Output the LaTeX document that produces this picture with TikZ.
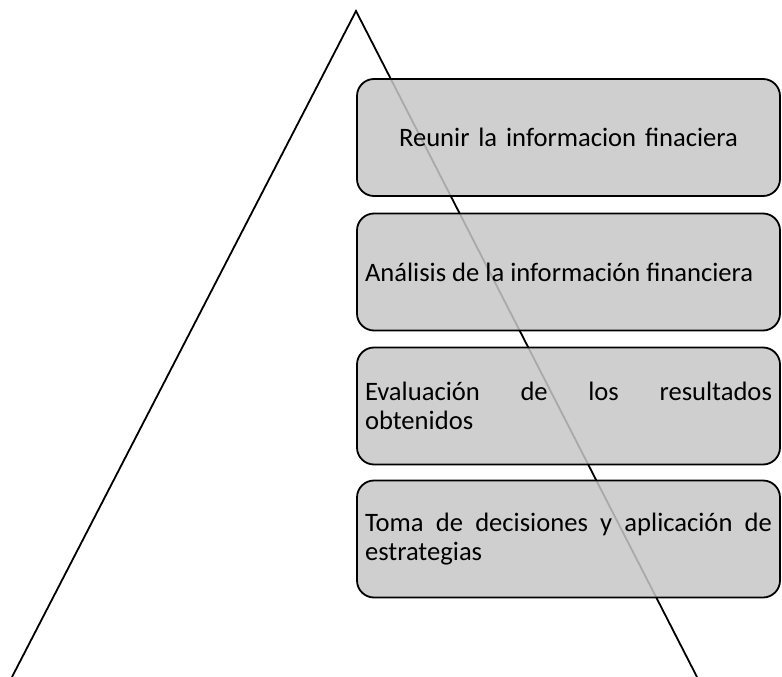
\documentclass[tikz,border=0pt]{standalone}
\usepackage{fontspec}
\setmainfont{Carlito}
\usepackage{tikz}

\newcommand{\stagefont}{\fontsize{26.6}{29.5}\selectfont\hyphenpenalty=10000\exhyphenpenalty=10000}

\begin{document}
\begin{tikzpicture}[x=1pt, y=-1pt,
  stage/.style = {draw, line width=1.8pt, rounded corners=17pt,
    fill=black!22, fill opacity=0.85, text opacity=1,
    minimum width=423pt, minimum height=117pt,
    text width=407pt, inner xsep=8pt, font=\stagefont}]

\useasboundingbox (0,0) rectangle (782,677);

%% pyramid
\coordinate (apex) at (356, 11);
\coordinate (base left) at (12, 677);
\coordinate (base right) at (697, 677);
\draw[line width=1.8pt] (base left) -- (apex) -- (base right);

%% stages
\node[stage, align=center] (reunir) at (568.5, 137.5) {Reunir la informacion finaciera};
\node[stage, align=justify] (analisis) at (568.5, 272) {Análisis de la información financiera};
\node[stage, align=justify] (evaluacion) at (568.5, 406) {Evaluación de los resultados\linebreak obtenidos};
\node[stage, align=justify] (decisiones) at (568.5, 539) {Toma de decisiones y aplicación de\linebreak estrategias};

\end{tikzpicture}
\end{document}
